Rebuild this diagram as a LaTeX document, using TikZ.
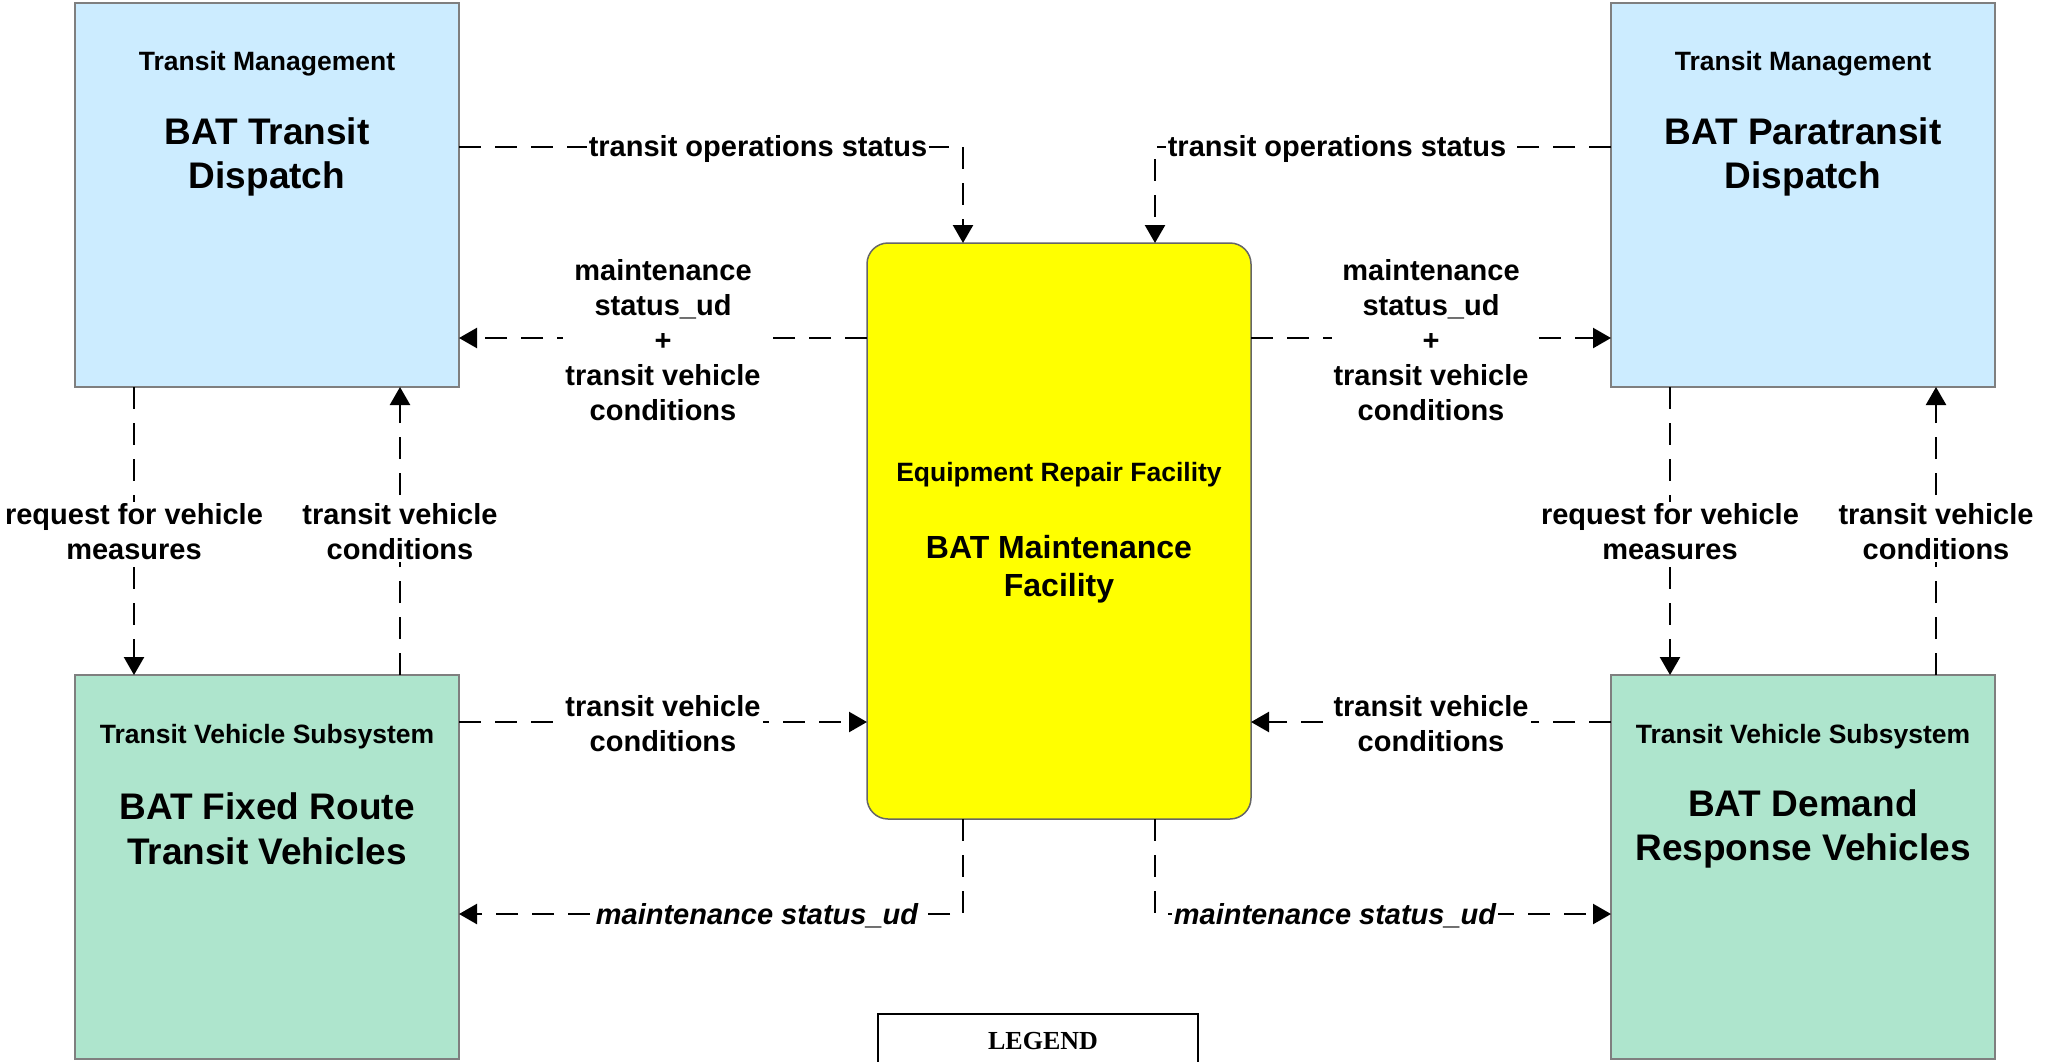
\documentclass[tikz,border=0pt]{standalone}
\usepackage{fontspec}
\setmainfont{Liberation Sans}
\newfontfamily\legendfont{Liberation Serif}
\usetikzlibrary{arrows.meta,calc}
\definecolor{tmblue}{HTML}{CCECFF}
\definecolor{tvgreen}{HTML}{AEE5CD}
\definecolor{boxline}{HTML}{7F7F7F}
\definecolor{facyellow}{HTML}{FFFF00}
\tikzset{
  sysbox/.style={draw=boxline, line width=0.75pt, minimum width=192pt, minimum height=192pt, outer sep=0pt, inner sep=0pt},
  mgmt/.style={sysbox, fill=tmblue},
  veh/.style={sysbox, fill=tvgreen},
  facility/.style={draw=black!60, line width=0.75pt, fill=facyellow, rounded corners=10.5pt, minimum width=192pt, minimum height=288pt, outer sep=0pt, inner sep=0pt},
  subtitle/.style={font=\bfseries\fontsize{13.25}{15.9}\selectfont, align=center, inner sep=0pt},
  title/.style={font=\bfseries\fontsize{18.5}{22.3}\selectfont, align=center, inner sep=0pt},
  ctitle/.style={font=\bfseries\fontsize{16}{18.9}\selectfont, align=center, inner sep=0pt},
  flow/.style={line width=1.2pt, dash pattern=on 11pt off 7pt, -{Triangle[length=9pt,width=10pt]}},
  flowlabel/.style={font=\bfseries\fontsize{14.5}{17.5}\selectfont, align=center, fill=white, inner sep=1pt},
  italiclabel/.style={flowlabel, font=\bfseries\itshape\fontsize{14.5}{17.5}\selectfont},
  legendbox/.style={draw=black, line width=1.25pt, minimum width=160pt, minimum height=43pt, outer sep=0pt, inner sep=0pt},
  legendtext/.style={font=\legendfont\bfseries\fontsize{13}{15}\selectfont, inner sep=0pt}
}
\begin{document}
\begin{tikzpicture}[x=0.5pt,y=-0.5pt]
\useasboundingbox (0,0) rectangle (2049,1061);
\clip (0,0) rectangle (2049,1061);
% boxes
\node[mgmt] (tl) at (267,195) {};
\node[mgmt] (tr) at (1803,195) {};
\node[veh] (bl) at (267,867) {};
\node[veh] (br) at (1803,867) {};
\node[facility] (c) at (1059,531) {};
\node[legendbox] (lg) at (1038,1057) {};
% box texts
\node[subtitle] (tlsub) at (267,64) {Transit Management};
\node[title] (tltitle) at (267,157) {BAT Transit\\Dispatch};
\node[subtitle] (trsub) at (1803,64) {Transit Management};
\node[title] (trtitle) at (1803,157) {BAT Paratransit\\Dispatch};
\node[subtitle] (blsub) at (267,737) {Transit Vehicle Subsystem};
\node[title] (bltitle) at (267,829) {BAT Fixed Route\\Transit Vehicles};
\node[subtitle] (brsub) at (1803,737) {Transit Vehicle Subsystem};
\node[title] (brtitle) at (1803,829) {BAT Demand\\Response Vehicles};
\node[subtitle] (csub) at (1059,475) {Equipment Repair Facility};
\node[ctitle] (ctitle) at (1059,569) {BAT Maintenance\\Facility};
\node[legendtext] (lgt) at (1043,1041) {LEGEND};
% connectors
\draw[flow] ($(tl.north east)+(0,144)$) -| ($(c.north west)+(96,0)$);
\draw[flow] ($(c.north west)+(0,95)$) -- ($(tl.north east)+(0,335)$);
\draw[flow] ($(c.north east)+(0,95)$) -- ($(tr.north west)+(0,335)$);
\draw[flow] ($(tr.north west)+(0,144)$) -| ($(c.north west)+(288,0)$);
\draw[flow] ($(tl.south west)+(59,0)$) -- ($(bl.north west)+(59,0)$);
\draw[flow] ($(bl.north west)+(325,0)$) -- ($(tl.south west)+(325,0)$);
\draw[flow] ($(tr.south west)+(59,0)$) -- ($(br.north west)+(59,0)$);
\draw[flow] ($(br.north west)+(325,0)$) -- ($(tr.south west)+(325,0)$);
\draw[flow] ($(bl.north east)+(0,47)$) -- ($(c.north west)+(0,479)$);
\draw[flow] ($(br.north west)+(0,47)$) -- ($(c.north east)+(0,479)$);
\draw[flow] ($(c.south west)+(96,0)$) |- ($(bl.north east)+(0,239)$);
\draw[flow] ($(c.south west)+(288,0)$) |- ($(br.north west)+(0,239)$);
% labels
\node[flowlabel] (l1) at (758,149) {transit operations status};
\node[flowlabel] (l2) at (663,340) {maintenance\\status\_ud\\+\\transit vehicle\\conditions};
\node[flowlabel] (l3) at (1431,340) {maintenance\\status\_ud\\+\\transit vehicle\\conditions};
\node[flowlabel] (l4) at (1337,149) {transit operations status};
\node[flowlabel] (l5) at (134,532) {request for vehicle\\measures};
\node[flowlabel] (l6) at (400,532) {transit vehicle\\conditions};
\node[flowlabel] (l7) at (1670,532) {request for vehicle\\measures};
\node[flowlabel] (l8) at (1936,532) {transit vehicle\\conditions};
\node[flowlabel] (l9) at (663,724) {transit vehicle\\conditions};
\node[flowlabel] (l10) at (1431,724) {transit vehicle\\conditions};
\node[italiclabel] (l11) at (757,916) {maintenance status\_ud};
\node[italiclabel] (l12) at (1335,916) {maintenance status\_ud};
\end{tikzpicture}
\end{document}
